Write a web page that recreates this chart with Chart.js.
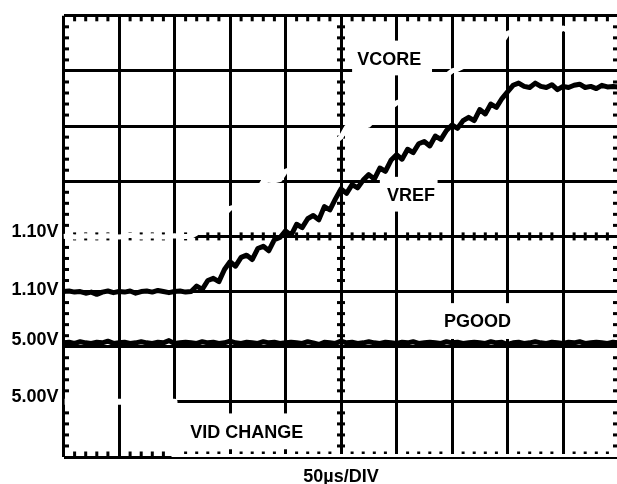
<!DOCTYPE html>
<html>
<head>
<meta charset="utf-8">
<script src="https://cdn.jsdelivr.net/npm/chart.js@4"></script>
<style>
  html, body { margin: 0; padding: 0; background: #fff; overflow: hidden; }
  #wrap { width: 622px; height: 484px; }
</style>
</head>
<body>
<div id="wrap"><canvas id="scope"></canvas></div>
<script>
// time base: 50us per division, 10 divisions, one sample every 5us
const timeUs = Array.from({ length: 101 }, (_, i) => i * 5);

// trace levels in screen divisions (0 = bottom of graticule, 8 = top)
const vrefDiv = [
    3.00, 3.01, 2.99, 3.00, 2.97, 2.99, 2.95, 2.99, 3.01, 2.98,
    3.00, 2.99, 3.01, 2.97, 3.00, 3.01, 2.99, 3.02, 3.00, 2.98,
    3.00, 3.01, 2.99, 3.00, 3.10, 3.04, 3.20, 3.24, 3.18, 3.40,
    3.54, 3.46, 3.62, 3.66, 3.58, 3.78, 3.82, 3.74, 3.94, 3.98,
    4.10, 4.02, 4.22, 4.16, 4.32, 4.38, 4.30, 4.54, 4.48, 4.68,
    4.86, 4.78, 4.94, 4.88, 5.02, 5.12, 5.04, 5.24, 5.18, 5.38,
    5.48, 5.40, 5.58, 5.52, 5.68, 5.72, 5.64, 5.82, 5.76, 5.92,
    6.02, 5.96, 6.10, 6.16, 6.10, 6.30, 6.22, 6.40, 6.34, 6.50,
    6.62, 6.74, 6.78, 6.72, 6.70, 6.78, 6.72, 6.70, 6.75, 6.66,
    6.72, 6.70, 6.74, 6.76, 6.70, 6.72, 6.68, 6.74, 6.71, 6.72,
    6.71
];
const vcoreDiv = [
    4.00, 4.01, 3.99, 4.00, 4.01, 4.00, 3.99, 4.00, 4.01, 4.00,
    3.99, 4.00, 4.02, 4.00, 3.99, 4.00, 4.01, 4.00, 3.99, 4.00,
    4.01, 4.00, 4.00, 4.00, 4.06, 4.14, 4.18, 4.26, 4.32, 4.40,
    4.51, 4.54, 4.62, 4.70, 4.76, 4.84, 5.00, 5.02, 5.01, 5.03,
    5.18, 5.22, 5.30, 5.34, 5.42, 5.48, 5.54, 5.60, 5.66, 5.72,
    5.80, 5.98, 6.00, 6.01, 5.99, 6.02, 6.12, 6.20, 6.28, 6.34,
    6.42, 6.46, 6.54, 6.58, 6.64, 6.70, 6.74, 6.80, 6.86, 6.92,
    7.00, 7.03, 7.08, 7.14, 7.20, 7.26, 7.32, 7.38, 7.44, 7.52,
    7.68, 7.72, 7.72, 7.74, 7.70, 7.73, 7.71, 7.72, 7.75, 7.70,
    7.78, 7.72, 7.70, 7.74, 7.72, 7.71, 7.73, 7.72, 7.70, 7.72,
    7.71
];
const pgoodDiv = [
    2.07, 2.08, 2.06, 2.09, 2.07, 2.06, 2.08, 2.07, 2.10, 2.06,
    2.07, 2.08, 2.06, 2.07, 2.09, 2.07, 2.06, 2.08, 2.07, 2.11,
    2.06, 2.07, 2.08, 2.07, 2.06, 2.09, 2.07, 2.08, 2.06, 2.07,
    2.10, 2.07, 2.06, 2.08, 2.07, 2.06, 2.09, 2.07, 2.08, 2.06,
    2.07, 2.08, 2.07, 2.06, 2.09, 2.07, 2.04, 2.08, 2.07, 2.06,
    2.10, 2.07, 2.08, 2.06, 2.07, 2.09, 2.07, 2.06, 2.08, 2.07,
    2.06, 2.08, 2.07, 2.09, 2.06, 2.07, 2.08, 2.07, 2.06, 2.09,
    2.07, 2.08, 2.06, 2.07, 2.08, 2.07, 2.06, 2.09, 2.07, 2.08,
    2.04, 2.07, 2.08, 2.06, 2.07, 2.09, 2.07, 2.06, 2.08, 2.07,
    2.06, 2.08, 2.07, 2.09, 2.06, 2.07, 2.08, 2.07, 2.06, 2.08,
    2.07
];
// VID CHANGE is a single falling step
const vidTimeUs = [1, 100, 100, 500];
const vidDiv = [1.0, 1.0, 0, 0];

// channel ground markers on the left
const levelTicks = [1.08, 2.12, 3.02, 4.08];
const levelLabels = ['5.00V', '5.00V', '1.10V', '1.10V'];

const traceNames = ['VCORE', 'VREF', 'PGOOD', 'VID CHANGE'];

const FONT = '"Liberation Sans", Arial, sans-serif';

// small ticks on the frame and the centre lines, plus the white label boxes
const scopeDecor = {
    id: 'scopeDecor',
    beforeDatasetsDraw(chart) {
        const { ctx, chartArea: a, scales: { x, y } } = chart;
        ctx.save();
        ctx.fillStyle = '#000';
        const cx = x.getPixelForValue(250);
        const cy = y.getPixelForValue(4);
        for (let k = 0; k <= 50; k++) {
            if (k % 5 === 0) continue;
            const px = x.getPixelForValue(k * 10);
            ctx.fillRect(px - 1.5, a.top, 3, 5.5);
            ctx.fillRect(px - 1.5, a.bottom - 5.5, 3, 5.5);
            ctx.fillRect(px - 1.5, cy - 4, 3, 8);
        }
        for (let k = 0; k <= 40; k++) {
            if (k % 5 === 0) continue;
            const py = y.getPixelForValue(k * 0.2);
            ctx.fillRect(a.left, py - 1.5, 5.5, 3);
            ctx.fillRect(a.right - 5.5, py - 1.5, 5.5, 3);
            ctx.fillRect(cx - 4, py - 1.5, 8, 3);
        }

        // label boxes: [x0, x1] in us, [y0, y1] in div, text centre
        const boxes = [
            { t: traceNames[0], x0: 260, x1: 332, y0: 6.92, y1: 7.55, tx: 293.5, ty: 7.20 },
            { t: traceNames[1], x0: 285, x1: 337, y0: 4.45, y1: 5.08, tx: 313, ty: 4.74 },
            { t: traceNames[2], x0: 339, x1: 407, y0: 2.14, y1: 2.79, tx: 373, ty: 2.45 },
            { t: traceNames[3], x0: 102, x1: 233, y0: 0.14, y1: 0.79, tx: 165, ty: 0.43 }
        ];
        ctx.font = 'bold 18px ' + FONT;
        ctx.textAlign = 'center';
        ctx.textBaseline = 'middle';
        boxes.forEach(b => {
            const l = x.getPixelForValue(b.x0), r = x.getPixelForValue(b.x1);
            const t = y.getPixelForValue(b.y1), btm = y.getPixelForValue(b.y0);
            ctx.fillStyle = '#fff';
            ctx.fillRect(l, t, r - l, btm - t);
            ctx.fillStyle = '#000';
            ctx.fillText(b.t, x.getPixelForValue(b.tx), y.getPixelForValue(b.ty));
        });
        ctx.restore();
    }
};

const toPoints = (xs, ys) => xs.map((t, i) => ({ x: t, y: ys[i] }));

new Chart(document.getElementById('scope'), {
    type: 'line',
    data: {
        datasets: [
            { label: 'VCORE', data: toPoints(timeUs, vcoreDiv), borderColor: '#fff', borderWidth: 5, order: 0 },
            { label: 'VID CHANGE', data: toPoints(vidTimeUs, vidDiv), borderColor: '#fff', borderWidth: 6, order: 0 },
            { label: 'VREF', data: toPoints(timeUs, vrefDiv), borderColor: '#000', borderWidth: 5, order: 1 },
            { label: 'PGOOD', data: toPoints(timeUs, pgoodDiv), borderColor: '#000', borderWidth: 5, order: 1 }
        ]
    },
    options: {
        responsive: true,
        maintainAspectRatio: false,
        animation: false,
        parsing: false,
        layout: { padding: { top: 12.5, right: 3.5, bottom: 0, left: 0 } },
        elements: {
            point: { radius: 0 },
            line: { tension: 0, borderJoinStyle: 'round' }
        },
        plugins: { legend: { display: false }, tooltip: { enabled: false } },
        scales: {
            x: {
                type: 'linear',
                min: 0,
                max: 500,
                ticks: { stepSize: 50, display: false },
                grid: { color: '#000', lineWidth: 3, drawTicks: false },
                border: { display: false },
                title: {
                    display: true,
                    text: '50µs/DIV',
                    color: '#000',
                    font: { family: FONT, size: 18, weight: 'bold', lineHeight: 0.8 },
                    padding: { top: 0, bottom: 0 }
                },
                afterFit: s => { s.height = 27; }
            },
            y: {
                min: 0,
                max: 8,
                weight: 0,
                ticks: { stepSize: 1, display: false },
                grid: { color: '#000', lineWidth: 3, drawTicks: false },
                border: { display: false },
                afterFit: s => { s.width = 0; }
            },
            yLab: {
                position: 'left',
                min: 0,
                max: 8,
                weight: 10,
                grid: { display: false, drawTicks: false },
                border: { display: false },
                ticks: {
                    autoSkip: false,
                    padding: 5,
                    color: '#000',
                    font: { family: FONT, size: 18, weight: 'bold' },
                    callback: (v, i) => levelLabels[i]
                },
                afterBuildTicks: s => { s.ticks = levelTicks.map(v => ({ value: v })); },
                afterFit: s => { s.width = 63.5; }
            }
        }
    },
    plugins: [scopeDecor]
});
</script>
</body>
</html>
